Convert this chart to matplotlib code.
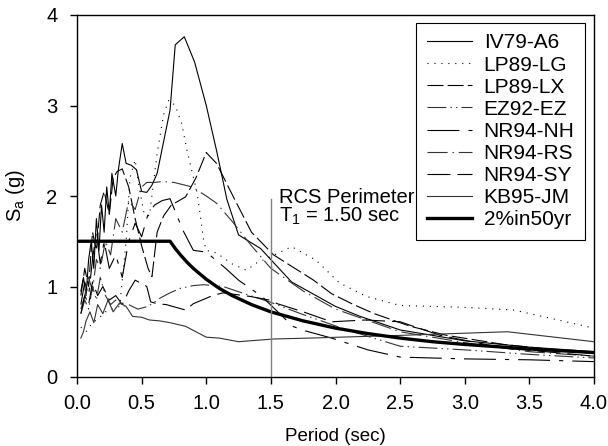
# Response spectra of the ground motion records vs. the 2% in 50yr design spectrum
import matplotlib
matplotlib.use('Agg')
import matplotlib.pyplot as plt

plt.rcParams['font.family'] = ['Liberation Sans', 'DejaVu Sans']
plt.rcParams['lines.scale_dashes'] = False

# %%
# values (period in sec, Sa in g)
t_iv79 = [0.03, 0.05, 0.07, 0.09, 0.11, 0.13, 0.15, 0.17, 0.19, 0.21, 0.23, 0.25, 0.27, 0.30,
          0.32, 0.35, 0.38, 0.42, 0.46, 0.50, 0.54, 0.58, 0.62, 0.67, 0.72, 0.76, 0.83, 0.91,
          1.00, 1.08, 1.16, 1.25, 1.42, 1.66, 2.00, 2.19, 2.50, 3.00, 3.50, 4.00]
sa_iv79 = [0.95, 1.10, 0.90, 1.30, 1.50, 1.20, 1.75, 1.40, 1.90, 1.60, 2.10, 1.80, 2.25, 2.00,
           2.29, 2.58, 2.36, 2.34, 2.29, 2.05, 2.04, 2.12, 2.25, 2.60, 2.95, 3.67, 3.76, 3.48,
           3.00, 2.50, 1.96, 1.57, 1.42, 1.05, 0.78, 0.67, 0.52, 0.40, 0.33, 0.28]

t_lg = [0.03, 0.07, 0.12, 0.17, 0.22, 0.27, 0.33, 0.38, 0.41, 0.45, 0.48, 0.52, 0.56, 0.62,
        0.67, 0.71, 0.76, 0.81, 0.85, 0.93, 0.98, 1.00, 1.08, 1.20, 1.31, 1.39, 1.50, 1.66,
        1.85, 2.03, 2.24, 2.50, 3.00, 3.38, 4.00]
sa_lg = [0.55, 0.50, 0.60, 0.65, 0.72, 0.75, 0.78, 1.50, 2.20, 2.40, 2.10, 1.80, 1.78, 2.47,
         2.90, 3.06, 3.00, 2.80, 2.51, 2.03, 1.51, 1.40, 1.37, 1.25, 1.18, 1.26, 1.33, 1.44,
         1.29, 1.04, 0.89, 0.79, 0.77, 0.74, 0.54]

t_lx = [0.03, 0.06, 0.09, 0.12, 0.15, 0.18, 0.21, 0.25, 0.28, 0.31, 0.35, 0.40, 0.45, 0.50,
        0.55, 0.58, 0.62, 0.67, 0.73, 0.84, 0.92, 1.00, 1.08, 1.21, 1.35, 1.52, 1.83, 1.97,
        2.14, 2.30, 2.58, 2.86, 3.30, 3.70, 4.00]
sa_lx = [0.90, 1.20, 1.00, 1.60, 1.40, 1.90, 2.05, 1.80, 2.20, 2.27, 2.30, 2.10, 1.75, 1.45,
         1.20, 1.11, 1.60, 1.78, 1.90, 1.99, 2.20, 2.48, 2.36, 1.99, 1.60, 1.35, 1.07, 0.92,
         0.80, 0.70, 0.56, 0.46, 0.36, 0.30, 0.26]

t_ez = [0.03, 0.06, 0.09, 0.12, 0.15, 0.18, 0.22, 0.26, 0.30, 0.35, 0.40, 0.47, 0.55, 0.64,
        0.72, 0.80, 0.90, 0.98, 1.13, 1.36, 1.49, 1.73, 2.09, 2.50, 3.00, 3.50, 4.00]
sa_ez = [0.70, 0.85, 0.75, 1.00, 0.85, 1.10, 0.90, 0.80, 0.85, 0.78, 0.80, 0.75, 0.78, 0.87,
         0.93, 0.98, 1.01, 1.02, 1.00, 0.89, 0.83, 0.70, 0.52, 0.34, 0.30, 0.25, 0.21]

t_nh = [0.03, 0.06, 0.09, 0.12, 0.15, 0.18, 0.21, 0.25, 0.30, 0.35, 0.40, 0.45, 0.50, 0.55,
        0.60, 0.66, 0.72, 0.82, 0.90, 1.00, 1.15, 1.25, 1.43, 1.67, 1.74, 1.97, 2.25, 2.50,
        3.00, 3.50, 4.00]
sa_nh = [0.80, 1.05, 0.90, 1.30, 1.60, 1.25, 1.50, 1.20, 1.35, 1.10, 1.50, 1.70, 1.55, 1.80,
         1.90, 1.95, 1.97, 1.62, 1.40, 1.38, 1.20, 1.07, 0.89, 0.56, 0.52, 0.43, 0.30, 0.22,
         0.20, 0.19, 0.17]

t_rs = [0.03, 0.06, 0.09, 0.12, 0.15, 0.18, 0.22, 0.26, 0.30, 0.35, 0.40, 0.45, 0.50, 0.54,
        0.60, 0.66, 0.75, 0.89, 1.00, 1.08, 1.20, 1.35, 1.50, 1.75, 2.00, 2.50, 3.00, 3.50, 4.00]
sa_rs = [0.75, 0.90, 1.10, 0.95, 1.30, 1.20, 1.50, 1.35, 1.75, 1.60, 1.95, 1.85, 2.10, 2.15,
         2.15, 2.16, 2.15, 2.10, 2.00, 1.92, 1.72, 1.45, 1.20, 0.95, 0.75, 0.50, 0.38, 0.28, 0.23]

t_sy = [0.03, 0.06, 0.09, 0.12, 0.16, 0.20, 0.25, 0.30, 0.35, 0.40, 0.45, 0.54, 0.57, 0.62,
        0.69, 0.84, 0.90, 1.05, 1.13, 1.34, 1.49, 1.55, 1.75, 1.97, 2.23, 2.50, 2.81, 3.30,
        3.70, 4.00]
sa_sy = [0.70, 0.90, 0.80, 1.05, 0.90, 1.00, 0.85, 0.90, 0.80, 0.95, 1.07, 1.00, 0.83, 0.81,
         0.80, 0.74, 0.81, 0.90, 0.93, 0.89, 0.85, 0.81, 0.72, 0.61, 0.63, 0.61, 0.46, 0.32,
         0.27, 0.23]

t_kb = [0.03, 0.05, 0.07, 0.10, 0.13, 0.16, 0.20, 0.24, 0.28, 0.33, 0.38, 0.43, 0.50, 0.56,
        0.64, 0.72, 0.84, 1.00, 1.10, 1.25, 1.52, 1.80, 2.50, 3.33, 4.00]
sa_kb = [0.43, 0.50, 0.62, 0.72, 0.60, 0.80, 0.70, 0.85, 0.72, 0.82, 0.78, 0.67, 0.66, 0.63,
         0.62, 0.60, 0.56, 0.44, 0.43, 0.39, 0.42, 0.43, 0.46, 0.50, 0.39]

t_design = [0.0, 0.72, 0.76, 0.80, 0.85, 0.90, 1.00, 1.10, 1.20, 1.35, 1.50, 1.75, 2.00,
            2.25, 2.50, 2.75, 3.00, 3.50, 4.00]
sa_design = [1.50, 1.50, 1.42, 1.35, 1.27, 1.20, 1.08, 0.98, 0.90, 0.80, 0.72, 0.62, 0.54,
             0.48, 0.43, 0.39, 0.36, 0.31, 0.27]

t1 = 1.5

# %%
fig = plt.figure(figsize=(6.08, 4.46), dpi=100)
ax = fig.add_axes([77 / 608, 1 - 377 / 446, 517 / 608, 362 / 446])

lw = 0.8
ax.plot(t_iv79, sa_iv79, color='black', lw=lw, label='IV79-A6')
ax.plot(t_lg, sa_lg, color='black', lw=lw, linestyle=(0, (0.8, 4.2)), label='LP89-LG')
ax.plot(t_lx, sa_lx, color='black', lw=lw, linestyle=(0, (11.5, 3)), label='LP89-LX')
ax.plot(t_ez, sa_ez, color='#333333', lw=lw, linestyle=(0, (13.5, 3, 1, 3, 1, 3)), label='EZ92-EZ')
ax.plot(t_nh, sa_nh, color='black', lw=lw, linestyle=(0, (23, 6.5, 3, 6.5)), label='NR94-NH')
ax.plot(t_rs, sa_rs, color='#333333', lw=lw, linestyle=(0, (14.5, 3.5, 1, 3.5)), label='NR94-RS')
ax.plot(t_sy, sa_sy, color='black', lw=lw, linestyle=(0, (16.5, 5)), label='NR94-SY')
ax.plot(t_kb, sa_kb, color='#333333', lw=lw, label='KB95-JM')
ax.plot(t_design, sa_design, color='black', lw=2.4, label='2%in50yr')

# building period marker
ax.plot([t1, t1], [0, 1.97], color='#808080', lw=1.0)
ax.text(1.565, 1.66, 'RCS Perimeter\nT$_\\mathregular{1}$ = 1.50 sec', fontsize=14.5,
        linespacing=0.92, va='bottom', ha='left')

ax.set_xlim(0, 4)
ax.set_ylim(0, 4)
ax.set_xticks([0, 0.5, 1, 1.5, 2, 2.5, 3, 3.5, 4])
ax.set_xticklabels(['0.0', '0.5', '1.0', '1.5', '2.0', '2.5', '3.0', '3.5', '4.0'])
ax.set_yticks([0, 1, 2, 3, 4])
ax.tick_params(direction='out', length=5, width=1, labelsize=14.5, pad=7)
ax.tick_params(axis='y', pad=9)
for s in ax.spines.values():
    s.set_linewidth(1)
ax.set_xlabel('Period (sec)', fontsize=13.5, labelpad=11)
ax.set_ylabel('S$_\\mathregular{a}$ (g)', fontsize=14.5, labelpad=14)

leg = ax.legend(loc='upper right', bbox_to_anchor=(0.9826, 0.978), borderaxespad=0,
                fontsize=15, handlelength=2.16, handletextpad=0.58, labelspacing=0.15,
                fancybox=False, framealpha=1, edgecolor='black', borderpad=0.5)
leg.get_frame().set_linewidth(0.8)

fig.savefig('out.png', dpi=100)
